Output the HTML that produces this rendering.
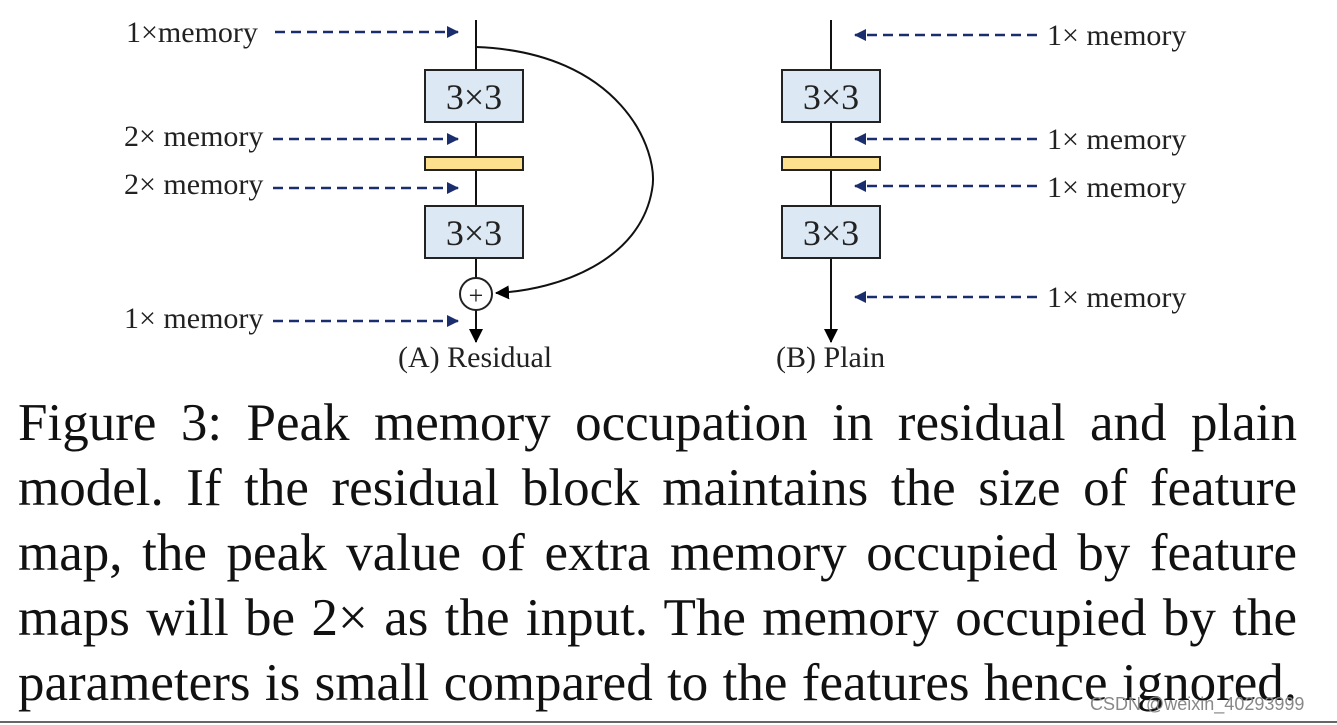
<!DOCTYPE html>
<html><head><style>
body{margin:0;width:1337px;height:725px;background:#fff;overflow:hidden;position:relative;font-family:"Liberation Serif",serif}
.cap{position:absolute;left:18px;width:1279px;top:391px;font-size:53px;line-height:65px;color:#111}
.cap div{text-align:justify;text-align-last:justify;white-space:nowrap}
</style></head><body>
<svg width="1337" height="725" style="position:absolute;left:0;top:0">
<defs>
<marker id="b" markerWidth="12" markerHeight="12" refX="11" refY="6" orient="auto" markerUnits="userSpaceOnUse"><path d="M0,0L12,6L0,12z" fill="#1a2e6e"/></marker>
<marker id="k" markerWidth="14" markerHeight="14" refX="13" refY="7" orient="auto" markerUnits="userSpaceOnUse"><path d="M0,0L14,7L0,14z" fill="#000"/></marker>
</defs>
<g font-family="Liberation Serif" font-size="30" fill="#222">
<text x="126" y="42">1×memory</text>
<text x="124" y="146">2× memory</text>
<text x="124" y="194">2× memory</text>
<text x="124" y="328">1× memory</text>
<text x="1047" y="45">1× memory</text>
<text x="1047" y="149">1× memory</text>
<text x="1047" y="197">1× memory</text>
<text x="1047" y="307">1× memory</text>
<text x="398" y="367">(A) Residual</text>
<text x="776" y="367">(B) Plain</text>
</g>
<g stroke="#1a2e6e" stroke-width="2.5" stroke-dasharray="10,6" fill="none">
<line x1="275" y1="32" x2="458" y2="32" marker-end="url(#b)"/>
<line x1="273" y1="139" x2="458" y2="139" marker-end="url(#b)"/>
<line x1="273" y1="188" x2="458" y2="188" marker-end="url(#b)"/>
<line x1="273" y1="321" x2="458" y2="321" marker-end="url(#b)"/>
<line x1="1037" y1="35" x2="855" y2="35" marker-end="url(#b)"/>
<line x1="1037" y1="139" x2="855" y2="139" marker-end="url(#b)"/>
<line x1="1037" y1="186" x2="855" y2="186" marker-end="url(#b)"/>
<line x1="1037" y1="297" x2="855" y2="297" marker-end="url(#b)"/>
</g>
<g stroke="#111" stroke-width="2" fill="none">
<line x1="476" y1="20" x2="476" y2="278"/>
<line x1="476" y1="310" x2="476" y2="342" marker-end="url(#k)"/>
<path d="M476,47 C620,52 660,150 652,190 C640,260 560,290 496,293" marker-end="url(#k)"/>
<line x1="831" y1="20" x2="831" y2="342" marker-end="url(#k)"/>
</g>
<g stroke="#222" stroke-width="2">
<rect x="425" y="70" width="98" height="52" fill="#dce9f5"/>
<rect x="425" y="157" width="98" height="13" fill="#fde08e"/>
<rect x="425" y="206" width="98" height="52" fill="#dce9f5"/>
<rect x="782" y="70" width="98" height="52" fill="#dce9f5"/>
<rect x="782" y="157" width="98" height="13" fill="#fde08e"/>
<rect x="782" y="206" width="98" height="52" fill="#dce9f5"/>
<circle cx="476" cy="294" r="16" fill="#fff"/>
</g>
<g font-family="Liberation Serif" font-size="36" fill="#222" text-anchor="middle">
<text x="474" y="109">3×3</text><text x="474" y="245">3×3</text>
<text x="831" y="109">3×3</text><text x="831" y="245">3×3</text>
<text x="476" y="304" font-size="26">+</text>
</g>
<line x1="0" y1="722" x2="1337" y2="722" stroke="#666" stroke-width="2"/>
</svg>
<div class="cap">
<div>Figure 3: Peak memory occupation in residual and plain</div>
<div>model. If the residual block maintains the size of feature</div>
<div>map, the peak value of extra memory occupied by feature</div>
<div>maps will be 2× as the input. The memory occupied by the</div>
<div>parameters is small compared to the features hence ignored.</div>
</div>
<div style="position:absolute;left:1090px;top:694px;font-family:'Liberation Sans',sans-serif;font-size:18px;color:#888">CSDN @weixin_40293999</div>
</body></html>
